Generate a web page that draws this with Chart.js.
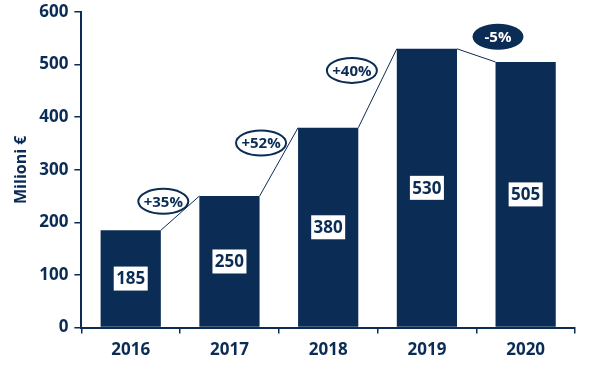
<!DOCTYPE html>
<html>
<head>
<meta charset="utf-8">
<script src="https://cdn.jsdelivr.net/npm/chart.js@4"></script>
<style>
  html, body { margin: 0; padding: 0; background: #fff; }
  #wrap { width: 590px; height: 371px; }
</style>
</head>
<body>
<div id="wrap"><canvas id="chart"></canvas></div>
<script>
var years = ['2016', '2017', '2018', '2019', '2020'];
var revenue = [185, 250, 380, 530, 505];
var growthLabels = ['+35%', '+52%', '+40%', '-5%'];
var yTicks = [0, 100, 200, 300, 400, 500, 600];

var navy = '#0a2c55';
var fontName = "'Open Sans', 'Noto Sans', sans-serif";

// where each growth bubble sits: x in category units, y in axis units
var bubbleSpots = [[0.33, 240], [1.32, 351], [2.24, 489], [3.72, 553]];

var annotate = {
  id: 'annotate',
  afterDatasetsDraw: function(chart) {
    var ctx = chart.ctx;
    var bars = chart.getDatasetMeta(0).data;
    var xs = chart.scales.x, ys = chart.scales.y;

    // lines joining bar tops
    ctx.save();
    ctx.strokeStyle = navy;
    ctx.lineWidth = 1;
    for (var i = 0; i < bars.length - 1; i++) {
      var a = bars[i], b = bars[i + 1];
      ctx.beginPath();
      ctx.moveTo(a.x + a.width / 2, a.y);
      ctx.lineTo(b.x - b.width / 2, b.y);
      ctx.stroke();
    }

    // value boxes in the middle of each bar
    ctx.font = 'bold 17px ' + fontName;
    ctx.textAlign = 'center';
    ctx.textBaseline = 'middle';
    bars.forEach(function(bar, i) {
      var cy = (bar.y + bar.base) / 2;
      ctx.fillStyle = '#fff';
      ctx.fillRect(bar.x - 17, cy - 12, 34, 24);
      ctx.fillStyle = navy;
      ctx.fillText(revenue[i], bar.x, cy + 1);
    });

    // growth bubbles
    var step = xs.getPixelForValue(1) - xs.getPixelForValue(0);
    growthLabels.forEach(function(txt, i) {
      var cx = xs.getPixelForValue(0) + bubbleSpots[i][0] * step;
      var cy = ys.getPixelForValue(bubbleSpots[i][1]);
      var neg = txt.charAt(0) === '-';
      var rx = neg ? 25.5 : 25, ry = neg ? 13 : 12.5;
      ctx.beginPath();
      ctx.ellipse(cx, cy, rx, ry, 0, 0, Math.PI * 2);
      ctx.fillStyle = neg ? navy : '#fff';
      ctx.fill();
      if (!neg) {
        ctx.lineWidth = 2;
        ctx.strokeStyle = navy;
        ctx.stroke();
      }
      ctx.font = 'bold 15px ' + fontName;
      ctx.fillStyle = neg ? '#fff' : navy;
      ctx.fillText(txt, cx, cy + 1);
    });
    ctx.restore();
  }
};

new Chart(document.getElementById('chart'), {
  type: 'bar',
  data: {
    labels: years,
    datasets: [{
      data: revenue,
      backgroundColor: navy,
      categoryPercentage: 1,
      barPercentage: 0.61
    }]
  },
  options: {
    responsive: true,
    maintainAspectRatio: false,
    animation: false,
    layout: { padding: { top: 0, right: 15, left: 8, bottom: 5 } },
    plugins: { legend: { display: false }, tooltip: { enabled: false } },
    scales: {
      x: {
        grid: { display: true, drawOnChartArea: false, drawTicks: true, tickLength: 6, color: navy, lineWidth: 1.5 },
        border: { color: navy, width: 2 },
        ticks: { color: navy, font: { family: fontName, size: 17, weight: 'bold' }, padding: 6 }
      },
      y: {
        min: 0,
        max: 600,
        afterBuildTicks: function(axis) {
          axis.ticks = yTicks.map(function(v) { return { value: v }; });
        },
        afterFit: function(axis) {
          axis.paddingTop = 12;
        },
        grid: { display: true, drawOnChartArea: false, drawTicks: true, tickLength: 7, color: navy, lineWidth: 1.5 },
        border: { color: navy, width: 2 },
        ticks: { color: navy, font: { family: fontName, size: 17, weight: 'bold' }, padding: 6 },
        title: {
          display: true,
          text: 'Milioni €',
          color: navy,
          font: { family: fontName, size: 16, weight: 'bold' },
          padding: { bottom: 2 }
        }
      }
    }
  },
  plugins: [annotate]
});
</script>
</body>
</html>
